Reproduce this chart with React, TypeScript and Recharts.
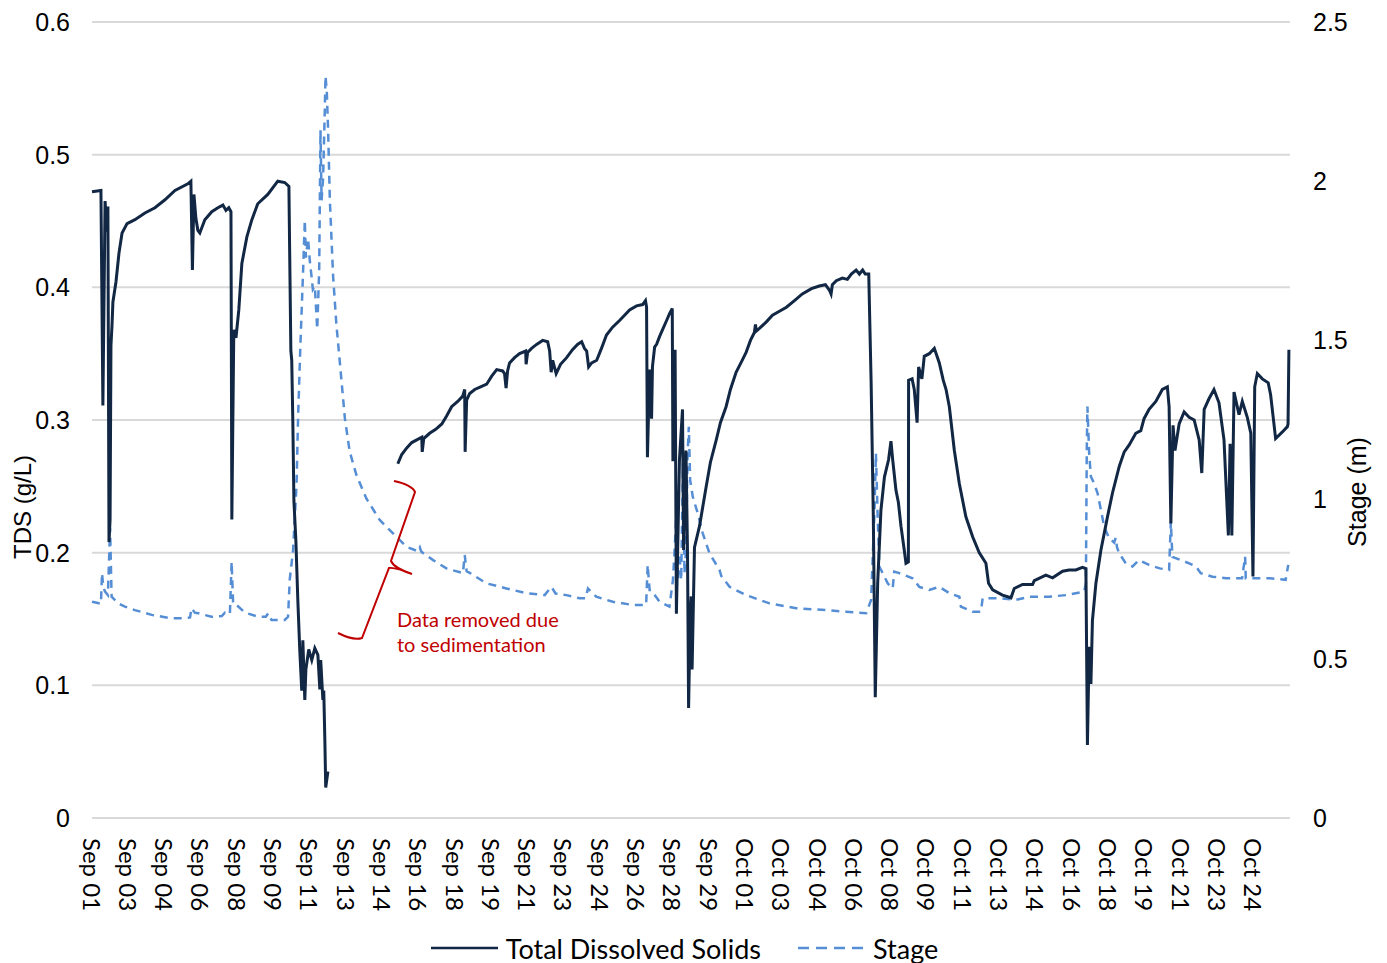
import React from "react";
import {
  LineChart,
  Line,
  XAxis,
  YAxis,
  CartesianGrid,
  Legend,
} from "recharts";

// x positions are days since Sep 01 00:00
const tickLabels = [
  "Sep 01", "Sep 03", "Sep 04", "Sep 06", "Sep 08", "Sep 09", "Sep 11",
  "Sep 13", "Sep 14", "Sep 16", "Sep 18", "Sep 19", "Sep 21", "Sep 23",
  "Sep 24", "Sep 26", "Sep 28", "Sep 29", "Oct 01", "Oct 03", "Oct 04",
  "Oct 06", "Oct 08", "Oct 09", "Oct 11", "Oct 13", "Oct 14", "Oct 16",
  "Oct 18", "Oct 19", "Oct 21", "Oct 23", "Oct 24",
];
const tdsTicks = [0, 0.1, 0.2, 0.3, 0.4, 0.5, 0.6];
const stageTicks = [0, 0.5, 1, 1.5, 2, 2.5];

// Total Dissolved Solids (g/L) — [day, value]; null = data removed
const tdsPoints: [number, number | null][] = [
  [0.0, 0.472], [0.41, 0.473], [0.5, 0.311], [0.6, 0.465], [0.69, 0.442],
  [0.73, 0.461], [0.78, 0.208], [0.83, 0.225], [0.87, 0.356], [0.92, 0.372],
  [0.96, 0.389], [1.1, 0.404], [1.24, 0.426], [1.38, 0.441], [1.61, 0.448],
  [1.97, 0.451], [2.43, 0.456], [2.89, 0.46], [3.35, 0.466], [3.81, 0.473],
  [4.4, 0.478], [4.54, 0.48], [4.61, 0.413], [4.68, 0.47], [4.77, 0.452],
  [4.86, 0.443], [4.95, 0.441], [5.18, 0.451], [5.5, 0.457], [5.78, 0.46],
  [6.01, 0.462], [6.15, 0.458], [6.28, 0.46], [6.38, 0.457], [6.42, 0.225],
  [6.51, 0.368], [6.61, 0.362], [6.74, 0.383], [6.88, 0.418], [7.11, 0.438],
  [7.34, 0.451], [7.61, 0.463], [8.07, 0.47], [8.53, 0.48], [8.85, 0.479],
  [9.04, 0.476], [9.08, 0.42], [9.13, 0.352], [9.17, 0.345], [9.22, 0.299],
  [9.27, 0.239], [9.36, 0.209], [9.45, 0.164], [9.54, 0.126], [9.63, 0.096],
  [9.68, 0.134], [9.77, 0.089], [9.82, 0.112], [9.95, 0.127], [10.09, 0.119],
  [10.23, 0.128], [10.37, 0.123], [10.46, 0.097], [10.5, 0.119], [10.6, 0.089],
  [10.64, 0.096], [10.69, 0.059], [10.73, 0.023], [10.78, 0.029], [10.83, 0.035],
  [12.5, null],
  [14.04, 0.267], [14.22, 0.274], [14.45, 0.279], [14.68, 0.283], [14.91, 0.285],
  [15.14, 0.287], [15.16, 0.276], [15.23, 0.286], [15.5, 0.29], [15.78, 0.293],
  [16.06, 0.297], [16.28, 0.303], [16.51, 0.31], [16.79, 0.314], [17.02, 0.318],
  [17.11, 0.323], [17.13, 0.276], [17.2, 0.315], [17.34, 0.32], [17.57, 0.323],
  [17.84, 0.325], [18.12, 0.327], [18.35, 0.333], [18.58, 0.338], [18.85, 0.337],
  [18.94, 0.335], [19.01, 0.324], [19.08, 0.337], [19.17, 0.343], [19.4, 0.347],
  [19.63, 0.35], [19.91, 0.352], [19.93, 0.342], [20.0, 0.351], [20.18, 0.354],
  [20.41, 0.357], [20.69, 0.36], [20.92, 0.359], [21.01, 0.352], [21.08, 0.336],
  [21.15, 0.345], [21.31, 0.335], [21.51, 0.342], [21.79, 0.347], [22.06, 0.353],
  [22.29, 0.357], [22.48, 0.359], [22.61, 0.354], [22.71, 0.352], [22.8, 0.34],
  [22.94, 0.343], [23.17, 0.345], [23.39, 0.354], [23.62, 0.364], [23.9, 0.37],
  [24.22, 0.375], [24.45, 0.379], [24.68, 0.383], [25.0, 0.386], [25.28, 0.387],
  [25.41, 0.39], [25.46, 0.385], [25.5, 0.272], [25.6, 0.338], [25.69, 0.301],
  [25.73, 0.34], [25.83, 0.355], [25.92, 0.357], [26.06, 0.363], [26.19, 0.368],
  [26.38, 0.375], [26.51, 0.38], [26.64, 0.384], [26.67, 0.269], [26.77, 0.353],
  [26.83, 0.154], [26.97, 0.27], [27.11, 0.308], [27.16, 0.202], [27.27, 0.277],
  [27.34, 0.2], [27.39, 0.083], [27.46, 0.15], [27.51, 0.167], [27.55, 0.112],
  [27.66, 0.204], [27.89, 0.22], [28.2, 0.25], [28.39, 0.268], [28.66, 0.285],
  [28.85, 0.298], [29.11, 0.31], [29.31, 0.323], [29.57, 0.336], [29.82, 0.344],
  [30.03, 0.351], [30.23, 0.36], [30.41, 0.366], [30.46, 0.372], [30.5, 0.367],
  [30.64, 0.369], [30.96, 0.374], [31.24, 0.379], [31.56, 0.382], [31.88, 0.385],
  [32.25, 0.39], [32.61, 0.395], [33.03, 0.399], [33.39, 0.401], [33.67, 0.402],
  [33.85, 0.398], [33.93, 0.395], [33.99, 0.402], [34.17, 0.405], [34.45, 0.407],
  [34.68, 0.406], [34.86, 0.41], [35.08, 0.413], [35.23, 0.41], [35.38, 0.413],
  [35.5, 0.41], [35.66, 0.41], [35.77, 0.328], [35.87, 0.227], [35.96, 0.091],
  [36.07, 0.177], [36.22, 0.232], [36.38, 0.257], [36.57, 0.27], [36.68, 0.284],
  [36.76, 0.27], [36.91, 0.247], [37.02, 0.238], [37.14, 0.22], [37.29, 0.202],
  [37.37, 0.192], [37.48, 0.193], [37.49, 0.33], [37.65, 0.331], [37.75, 0.323],
  [37.88, 0.298], [37.95, 0.34], [38.1, 0.331], [38.21, 0.348], [38.44, 0.35],
  [38.67, 0.354], [38.9, 0.343], [39.08, 0.33], [39.21, 0.323], [39.36, 0.31],
  [39.59, 0.277], [39.82, 0.252], [40.12, 0.227], [40.43, 0.212], [40.73, 0.2],
  [41.04, 0.192], [41.16, 0.177], [41.35, 0.172], [41.8, 0.168], [42.19, 0.166],
  [42.34, 0.173], [42.72, 0.176], [43.18, 0.176], [43.26, 0.179], [43.79, 0.183],
  [44.1, 0.181], [44.56, 0.186], [44.86, 0.187], [45.17, 0.187], [45.47, 0.189],
  [45.63, 0.188], [45.7, 0.055], [45.78, 0.129], [45.86, 0.101], [45.93, 0.149],
  [46.09, 0.177], [46.32, 0.202], [46.62, 0.227], [46.85, 0.245], [47.16, 0.265],
  [47.39, 0.276], [47.61, 0.281], [47.92, 0.29], [48.15, 0.292], [48.3, 0.301],
  [48.53, 0.308], [48.84, 0.314], [49.14, 0.323], [49.37, 0.325], [49.45, 0.31],
  [49.53, 0.222], [49.63, 0.296], [49.72, 0.277], [49.91, 0.297], [50.14, 0.306],
  [50.37, 0.302], [50.6, 0.3], [50.83, 0.285], [50.95, 0.26], [51.06, 0.308],
  [51.28, 0.316], [51.51, 0.323], [51.74, 0.313], [51.97, 0.285], [52.17, 0.213],
  [52.25, 0.282], [52.33, 0.213], [52.43, 0.321], [52.66, 0.304], [52.81, 0.314],
  [53.04, 0.302], [53.2, 0.29], [53.3, 0.182], [53.38, 0.325], [53.5, 0.335],
  [53.73, 0.331], [54.0, 0.328], [54.11, 0.319], [54.34, 0.286], [54.65, 0.291],
  [54.88, 0.295], [54.91, 0.297], [54.95, 0.353],
];

// Stage (m) — [day, value]
const stagePoints: [number, number][] = [
  [0.0, 0.679], [0.23, 0.676], [0.41, 0.672], [0.46, 0.769], [0.52, 0.725],
  [0.6, 0.711], [0.73, 0.7], [0.83, 0.91], [0.9, 0.695], [1.21, 0.674],
  [1.51, 0.664], [1.97, 0.653], [2.74, 0.638], [3.66, 0.627], [4.27, 0.627],
  [4.5, 0.63], [4.57, 0.659], [4.72, 0.645], [4.88, 0.643], [5.49, 0.632],
  [5.96, 0.634], [6.1, 0.645], [6.33, 0.64], [6.41, 0.805], [6.48, 0.672],
  [6.64, 0.669], [7.02, 0.645], [7.63, 0.632], [7.98, 0.632], [8.09, 0.643],
  [8.24, 0.622], [8.85, 0.622], [9.0, 0.632], [9.08, 0.75], [9.23, 0.84],
  [9.39, 1.047], [9.46, 1.255], [9.57, 1.49], [9.69, 1.715], [9.77, 1.877],
  [9.82, 1.76], [9.92, 1.82], [10.0, 1.75], [10.08, 1.7], [10.14, 1.66],
  [10.23, 1.67], [10.34, 1.535], [10.43, 1.72], [10.49, 2.16], [10.54, 1.94],
  [10.61, 2.01], [10.69, 2.23], [10.72, 2.33], [10.78, 2.28], [10.84, 2.16],
  [10.92, 1.94], [11.07, 1.7], [11.22, 1.55], [11.38, 1.43], [11.61, 1.255],
  [11.83, 1.151], [12.14, 1.077], [12.6, 1.003], [13.21, 0.936], [13.82, 0.894],
  [14.44, 0.852], [14.95, 0.838], [15.05, 0.85], [15.12, 0.836], [15.66, 0.81],
  [16.27, 0.784], [17.03, 0.769], [17.11, 0.826], [17.2, 0.775], [17.34, 0.77],
  [18.11, 0.737], [19.02, 0.721], [19.94, 0.706], [20.78, 0.7], [21.09, 0.726],
  [21.28, 0.705], [21.78, 0.7], [22.39, 0.69], [22.66, 0.69], [22.77, 0.721],
  [23.15, 0.695], [23.91, 0.679], [24.83, 0.669], [25.44, 0.669], [25.51, 0.795],
  [25.6, 0.716], [25.67, 0.716], [26.06, 0.679], [26.51, 0.664], [26.67, 0.747],
  [26.74, 0.831], [26.83, 0.957], [26.9, 0.747], [26.97, 0.831], [27.05, 0.747],
  [27.13, 1.114], [27.2, 0.768], [27.28, 0.852], [27.34, 1.135], [27.4, 1.229],
  [27.46, 1.062], [27.58, 1.009], [27.81, 0.957], [28.04, 0.894], [28.35, 0.831],
  [28.81, 0.779], [28.89, 0.76], [29.27, 0.726], [30.03, 0.7], [31.1, 0.674],
  [32.33, 0.659], [33.7, 0.653], [34.62, 0.648], [35.54, 0.643], [35.77, 0.685],
  [35.92, 0.957], [35.99, 1.145], [36.07, 0.946], [36.15, 0.789], [36.3, 0.769],
  [36.53, 0.737], [36.76, 0.721], [36.83, 0.774], [37.06, 0.769], [37.67, 0.753],
  [37.98, 0.726], [38.44, 0.716], [38.9, 0.726], [39.36, 0.706], [39.82, 0.695],
  [39.89, 0.664], [40.43, 0.648], [40.81, 0.648], [40.89, 0.69], [41.65, 0.69],
  [42.42, 0.685], [43.03, 0.695], [43.94, 0.695], [44.71, 0.7], [45.55, 0.711],
  [45.63, 0.737], [45.67, 1.156], [45.7, 1.292], [45.78, 1.145], [45.86, 1.072],
  [46.01, 1.051], [46.17, 1.019], [46.32, 0.967], [46.47, 0.915], [46.7, 0.878],
  [46.93, 0.865], [47.0, 0.88], [47.06, 0.85], [47.16, 0.831], [47.46, 0.8],
  [47.77, 0.79], [48.07, 0.81], [48.53, 0.795], [49.02, 0.784], [49.45, 0.779],
  [49.53, 0.931], [49.6, 0.82], [49.99, 0.81], [50.37, 0.8], [50.68, 0.79],
  [50.9, 0.769], [51.44, 0.758], [52.06, 0.753], [52.8, 0.753], [52.94, 0.821],
  [52.97, 0.753], [54.04, 0.753], [54.8, 0.748], [54.92, 0.795],
];

const TDS_COLOR = "#112744";
const STAGE_COLOR = "#558ED5";
const GRID_COLOR = "#D9D9D9";
const NOTE_COLOR = "#C00000";

const W = 1371;
const H = 960;

const tdsData = tdsPoints.map(([day, v]) => ({ day, tds: v }));
const stageData = stagePoints.map(([day, v]) => ({ day, stage: v }));
const dayTicks = tickLabels.map((_, i) => (i * 5) / 3);

const DayTick = (props: any) => {
  const { x, y, payload } = props;
  const label = tickLabels[Math.round(payload.value * 0.6)];
  return (
    <text
      x={x}
      y={y}
      transform={`rotate(90, ${x}, ${y})`}
      textAnchor="start"
      dominantBaseline="central"
      fontFamily="Lato, 'Open Sans', sans-serif"
      fontSize={24}
      fill="#000"
    >
      {label}
    </text>
  );
};

const LegendContent = () => (
  <div
    style={{
      display: "flex",
      justifyContent: "center",
      alignItems: "center",
      height: 40,
      fontFamily: "Lato, 'Open Sans', sans-serif",
      fontSize: 27,
      color: "#000",
      paddingRight: 18,
    }}
  >
    <svg width={67} height={6}>
      <line x1={0} y1={3} x2={67} y2={3} stroke={TDS_COLOR} strokeWidth={2.5} />
    </svg>
    <span style={{ marginLeft: 8, marginRight: 37 }}>Total Dissolved Solids</span>
    <svg width={67} height={6}>
      <line
        x1={0}
        y1={3}
        x2={67}
        y2={3}
        stroke={STAGE_COLOR}
        strokeWidth={2.5}
        strokeDasharray="11 7"
      />
    </svg>
    <span style={{ marginLeft: 8 }}>Stage</span>
  </div>
);

export default function App() {
  const axisFont = { fontSize: 25, fill: "#000", fontFamily: "'Liberation Sans', Arial, sans-serif" };
  return (
    <div style={{ position: "relative", width: W, height: H, fontFamily: "'Liberation Sans', Arial, sans-serif" }}>
      <LineChart width={W} height={H} margin={{ top: 14, right: 0, bottom: 0, left: 0 }}>
        <CartesianGrid yAxisId="left" vertical={false} stroke={GRID_COLOR} strokeWidth={2} />
        <XAxis
          dataKey="day"
          type="number"
          domain={[0, 55]}
          ticks={dayTicks}
          interval={0}
          allowDuplicatedCategory={false}
          axisLine={false}
          tickLine={false}
          tickSize={0}
          tickMargin={20}
          height={110}
          tick={<DayTick />}
        />
        <YAxis
          yAxisId="left"
          domain={[0, 0.6]}
          ticks={tdsTicks}
          width={84}
          axisLine={false}
          tickLine={false}
          tickSize={0}
          tickMargin={22}
          tick={axisFont}
          tickFormatter={(v: number) => (v === 0 ? "0" : v.toFixed(1))}
        />
        <YAxis
          yAxisId="right"
          orientation="right"
          domain={[0, 2.5]}
          ticks={stageTicks}
          width={89}
          axisLine={false}
          tickLine={false}
          tickSize={0}
          tickMargin={23}
          tick={axisFont}
          tickFormatter={(v: number) => String(v)}
        />
        <Legend verticalAlign="bottom" height={40} content={<LegendContent />} />
        <Line
          yAxisId="right"
          data={stageData}
          dataKey="stage"
          name="Stage"
          type="linear"
          stroke={STAGE_COLOR}
          strokeWidth={2.5}
          strokeDasharray="8 6"
          dot={false}
          isAnimationActive={false}
        />
        <Line
          yAxisId="left"
          data={tdsData}
          dataKey="tds"
          name="Total Dissolved Solids"
          type="linear"
          stroke={TDS_COLOR}
          strokeWidth={3}
          dot={false}
          connectNulls={false}
          isAnimationActive={false}
        />
      </LineChart>
      <svg
        width={W}
        height={H}
        style={{ position: "absolute", left: 0, top: 0, pointerEvents: "none" }}
      >
        <text
          transform="translate(14, 499) rotate(-90)"
          textAnchor="middle"
          dominantBaseline="central"
          fontSize={24}
          fill="#000"
          fontFamily="'Liberation Sans', Arial, sans-serif"
        >
          TDS (g/L)
        </text>
        <text
          transform="translate(1349, 484) rotate(-90)"
          textAnchor="middle"
          dominantBaseline="central"
          fontSize={25}
          fill="#000"
          fontFamily="'Liberation Sans', Arial, sans-serif"
        >
          Stage (m)
        </text>
        <path
          d="M386,473 Q404,477 407,484 L383,553 Q386,560 404,566 M404,566 Q387,559 381,560 L354,630 Q346,633 330,625"
          fill="none"
          stroke={NOTE_COLOR}
          strokeWidth={2}
        />
        <text
          x={389}
          y={619}
          fontSize={20}
          fill={NOTE_COLOR}
          fontFamily="Lato, 'Open Sans', sans-serif"
        >
          <tspan x={389}>Data removed due</tspan>
          <tspan x={389} dy={25}>to sedimentation</tspan>
        </text>
      </svg>
    </div>
  );
}
